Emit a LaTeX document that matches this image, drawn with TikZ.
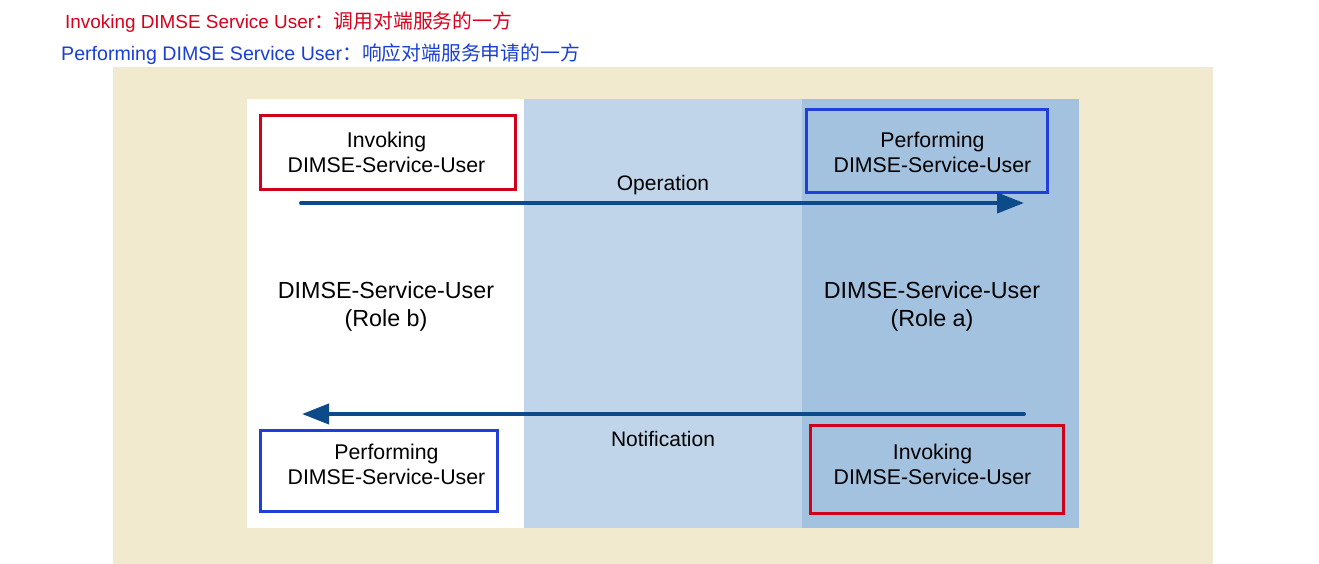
\documentclass[tikz,border=0pt]{standalone}
\usepackage{fontspec}
\setmainfont{Liberation Sans}
\newfontfamily\cjk{Noto Sans CJK SC}
\usetikzlibrary{arrows.meta}
\definecolor{beige}{HTML}{F2EACE}
\definecolor{midblue}{HTML}{C0D5EA}
\definecolor{darkpanel}{HTML}{A3C2E0}
\definecolor{boxred}{HTML}{D0021B}
\definecolor{boxblue}{HTML}{1F3FD8}
\definecolor{arrowblue}{HTML}{0D4A8A}
\definecolor{hdrred}{HTML}{D8001C}
\definecolor{hdrblue}{HTML}{1A3FD6}
\begin{document}
\begin{tikzpicture}[x=1pt,y=-1pt,
  userbox/.style={draw, line width=3pt, inner sep=0pt},
  redbox/.style={userbox, draw=boxred},
  bluebox/.style={userbox, draw=boxblue},
  boxtext/.style={align=center, inner sep=0pt, font=\fontsize{21.3}{25}\selectfont},
  rolelabel/.style={align=center, font=\fontsize{23.3}{28}\selectfont},
  msglabel/.style={font=\fontsize{21}{25}\selectfont},
  msgarrow/.style={draw=arrowblue, line width=4pt, line cap=round,
    -{Triangle[length=27pt,width=20pt]}},
  hdr/.style={anchor=west, inner sep=0pt}]
\useasboundingbox (0,0) rectangle (1319,564);
\fill[white] (0,0) rectangle (1319,564);
% backgrounds
\fill[beige] (113,67) rectangle (1213,564);
\fill[white] (247,99) rectangle (524,528);
\fill[midblue] (524,99) rectangle (802,528);
\fill[darkpanel] (802,99) rectangle (1079,528);
% header
\node[hdr, text=hdrred, font=\fontsize{18.9}{22}\selectfont] (h1) at (65,22) {Invoking DIMSE Service User{\cjk\fontsize{19.8}{22}\selectfont ：调用对端服务的一方}};
\node[hdr, text=hdrblue, font=\fontsize{19.6}{22}\selectfont] (h2) at (61,54) {Performing DIMSE Service User{\cjk\fontsize{19.8}{22}\selectfont ：响应对端服务申请的一方}};
% boxes
\node[redbox, minimum width=255pt, minimum height=74pt] (invB) at (387.5,153) {};
\node[boxtext] (invBt) at (386.5,152.5) {Invoking\\DIMSE-Service-User};
\node[bluebox, minimum width=241pt, minimum height=83pt] (perfA) at (926.5,151.5) {};
\node[boxtext] (perfAt) at (932.5,152.5) {Performing\\DIMSE-Service-User};
\node[bluebox, minimum width=237pt, minimum height=81pt] (perfB) at (378.5,470.5) {};
\node[boxtext] (perfBt) at (386.5,464.5) {Performing\\DIMSE-Service-User};
\node[redbox, minimum width=253pt, minimum height=88pt] (invA) at (936.5,469) {};
\node[boxtext] (invAt) at (932.5,464.5) {Invoking\\DIMSE-Service-User};
% role labels
\node[rolelabel] (roleb) at (386,306) {DIMSE-Service-User\\(Role b)};
\node[rolelabel] (rolea) at (932,306) {DIMSE-Service-User\\(Role a)};
% arrows
\coordinate (opS) at (301,203);
\coordinate (opE) at (1024,203);
\coordinate (noS) at (1024,414);
\coordinate (noE) at (302,414);
\draw[msgarrow] (opS) -- (opE);
\draw[msgarrow] (noS) -- (noE);
\node[msglabel] (op) at (663,185) {Operation};
\node[msglabel] (no) at (663,439) {Notification};
\end{tikzpicture}
\end{document}
